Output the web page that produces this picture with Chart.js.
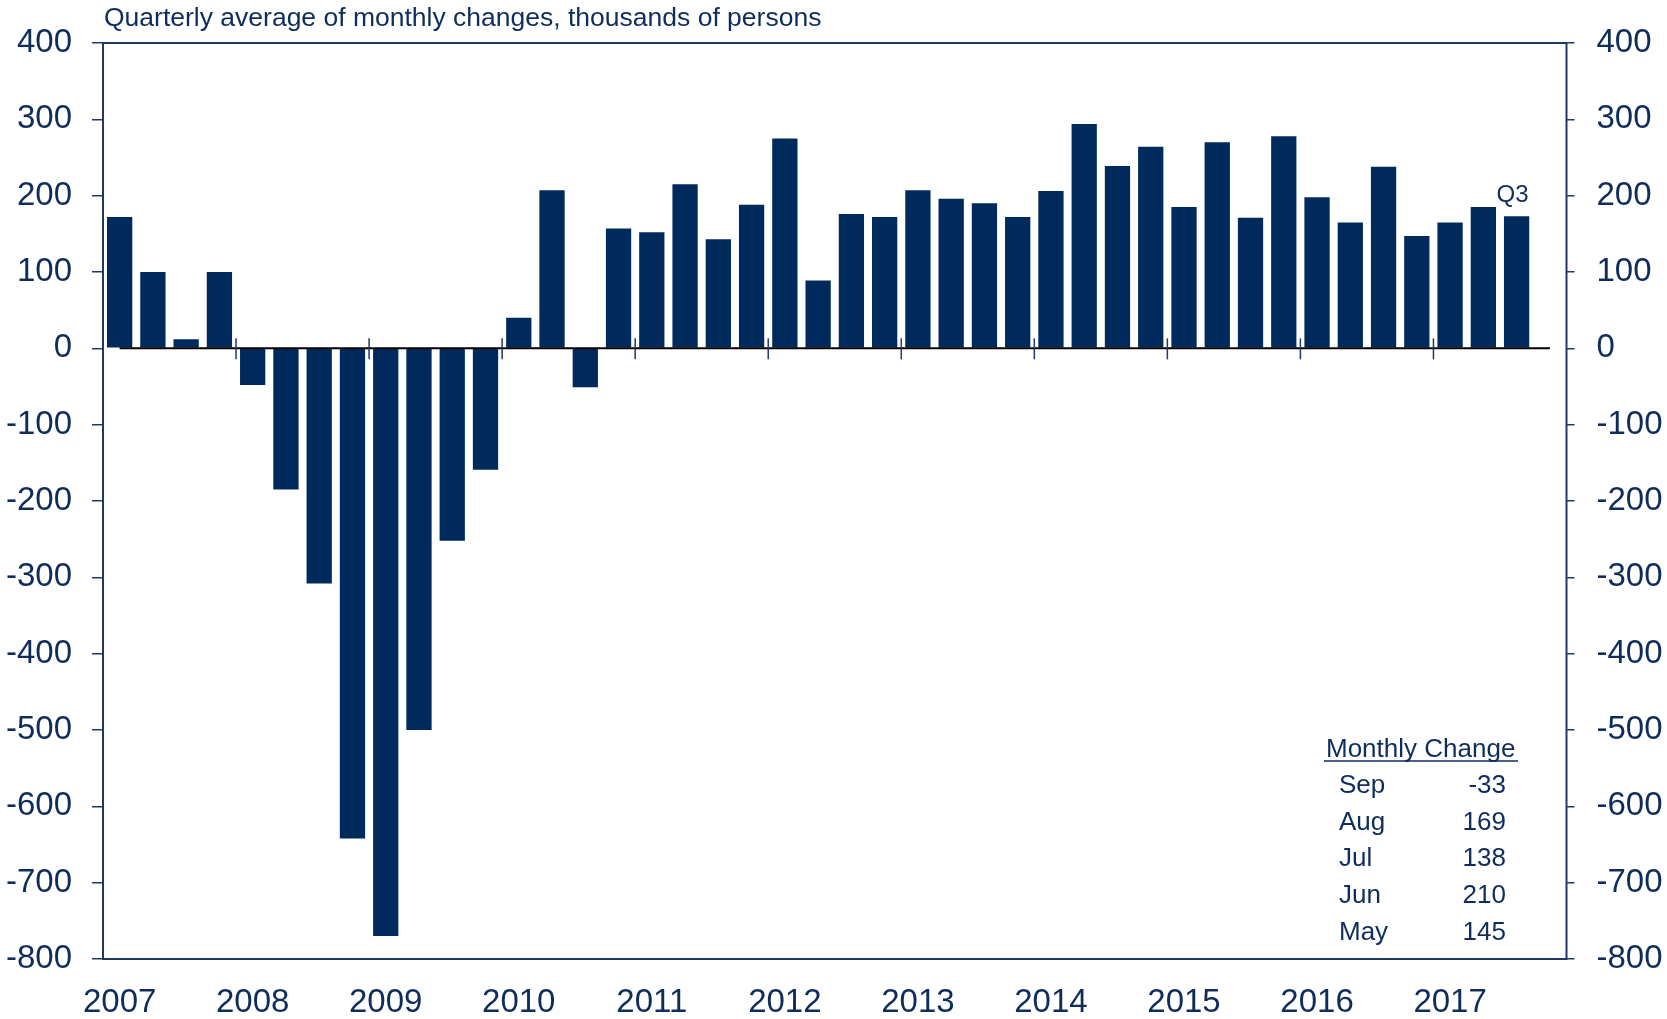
<!DOCTYPE html>
<html>
<head>
<meta charset="utf-8">
<script src="https://cdn.jsdelivr.net/npm/chart.js@4.4.1/dist/chart.umd.min.js"></script>
<style>
  html, body { margin: 0; padding: 0; background: #fff; }
  #wrap { width: 1667px; height: 1019px; position: relative; }
</style>
</head>
<body>
<div id="wrap"><canvas id="payrolls"></canvas></div>
<script>
/* Payroll employment: quarterly average of monthly changes (thousands) */
const YEARS = ['2007', '2008', '2009', '2010', '2011', '2012', '2013', '2014', '2015', '2016', '2017'];
const QUARTERS = ['Q1', 'Q2', 'Q3', 'Q4'];
const QUARTER_LABELS = YEARS.flatMap((y) => QUARTERS.map((q) => y + ' ' + q));

// 2007 Q1 .. 2017 Q3, last slot (2017 Q4) left empty
const QUARTERLY_CHANGE = [
  172, 100, 12, 100,
  -48, -185, -308, -642,
  -770, -500, -252, -159,
  40, 207, -51, 157,
  152, 215, 143, 188,
  275, 89, 176, 172,
  207, 196, 190, 172,
  206, 294, 239, 264,
  185, 270, 171, 278,
  198, 165, 238, 147,
  165, 185, 173, null,
];

const Y_TICKS = [400, 300, 200, 100, 0, -100, -200, -300, -400, -500, -600, -700, -800];

const TABLE_MONTHS = ['Sep', 'Aug', 'Jul', 'Jun', 'May'];
const TABLE_VALUES = ['-33', '169', '138', '210', '145'];

const NAVY = '#002A5C';
const TEXT = '#0E2D5C';
const AXIS = '#1F3864';
const FONT = "'Liberation Sans', Arial, sans-serif";

const decorations = {
  id: 'decorations',
  afterDatasetsDraw(chart) {
    const { ctx, chartArea: a, scales } = chart;
    const x = scales.x, y = scales.y;
    const y0 = y.getPixelForValue(0);
    ctx.save();

    // frame
    ctx.strokeStyle = AXIS;
    ctx.lineWidth = 2;
    ctx.strokeRect(a.left, a.top, a.right - a.left, a.bottom - a.top);

    // zero line
    ctx.strokeStyle = '#000';
    ctx.lineWidth = 2;
    ctx.beginPath();
    ctx.moveTo(x.getPixelForValue(0), y0);
    ctx.lineTo(x.getPixelForValue(QUARTER_LABELS.length - 1), y0);
    ctx.stroke();

    // year boundary tick marks crossing zero
    ctx.strokeStyle = AXIS;
    ctx.lineWidth = 1.5;
    for (let i = 4; i < QUARTER_LABELS.length; i += 4) {
      const px = (x.getPixelForValue(i - 1) + x.getPixelForValue(i)) / 2;
      ctx.beginPath();
      ctx.moveTo(px, y0 - 10);
      ctx.lineTo(px, y0 + 11);
      ctx.stroke();
    }

    // title
    ctx.fillStyle = TEXT;
    ctx.font = '26.5px ' + FONT;
    ctx.textAlign = 'left';
    ctx.textBaseline = 'alphabetic';
    ctx.fillText('Quarterly average of monthly changes, thousands of persons', 104, 26);

    // Q3 label above the last bar
    const meta = chart.getDatasetMeta(0);
    let last = 0;
    QUARTERLY_CHANGE.forEach((v, i) => { if (v !== null) last = i; });
    const bar = meta.data[last];
    ctx.font = '24px ' + FONT;
    ctx.textAlign = 'center';
    ctx.fillText('Q3', bar.x - 4, bar.y - 14);

    // monthly change table
    ctx.font = '26px ' + FONT;
    ctx.textAlign = 'left';
    ctx.fillText('Monthly Change', 1326, 757);
    ctx.strokeStyle = TEXT;
    ctx.lineWidth = 1.5;
    ctx.beginPath();
    ctx.moveTo(1324, 761);
    ctx.lineTo(1518, 761);
    ctx.stroke();
    TABLE_MONTHS.forEach((m, i) => {
      const by = 793 + i * 36.7;
      ctx.textAlign = 'left';
      ctx.fillText(m, 1339, by);
      ctx.textAlign = 'right';
      ctx.fillText(TABLE_VALUES[i], 1506, by);
    });

    ctx.restore();
  },
};

const yTickCommon = {
  min: -800,
  max: 400,
  afterBuildTicks: (s) => { s.ticks = Y_TICKS.map((v) => ({ value: v })); },
};

new Chart(document.getElementById('payrolls'), {
  type: 'bar',
  data: {
    labels: QUARTER_LABELS,
    datasets: [{
      data: QUARTERLY_CHANGE,
      backgroundColor: NAVY,
      borderWidth: 0,
      categoryPercentage: 1,
      barPercentage: 0.76,
    }],
  },
  options: {
    responsive: true,
    maintainAspectRatio: false,
    animation: false,
    layout: { padding: { top: 43, left: 0, right: 0, bottom: 0 } },
    plugins: { legend: { display: false }, tooltip: { enabled: false } },
    scales: {
      x: {
        offset: true,
        grid: { display: false },
        border: { display: false },
        ticks: {
          autoSkip: false,
          maxRotation: 0,
          color: TEXT,
          padding: 16,
          font: { family: FONT, size: 33 },
          callback: (v, i) => (i % 4 === 0 ? QUARTER_LABELS[i].slice(0, 4) : ''),
        },
        afterFit: (s) => { s.height = 60; },
      },
      y: {
        ...yTickCommon,
        position: 'left',
        grid: { drawOnChartArea: false, tickLength: 11, color: AXIS, lineWidth: 1.5 },
        border: { display: false },
        ticks: { color: TEXT, padding: 20, font: { family: FONT, size: 33 } },
        afterFit: (s) => { s.width = 103; },
      },
      y2: {
        ...yTickCommon,
        position: 'right',
        grid: { drawOnChartArea: false, tickLength: 8, color: AXIS, lineWidth: 1.5 },
        border: { display: false },
        ticks: { color: TEXT, padding: 22, font: { family: FONT, size: 33 } },
        afterFit: (s) => { s.width = 100.5; },
      },
    },
  },
  plugins: [decorations],
});
</script>
</body>
</html>
